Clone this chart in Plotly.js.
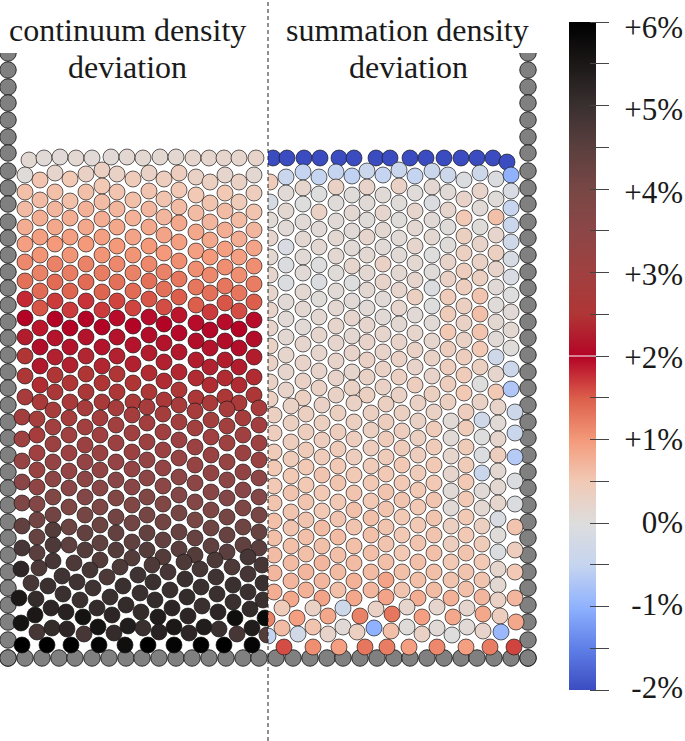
<!DOCTYPE html>
<html><head><meta charset="utf-8">
<script src="https://cdn.plot.ly/plotly-3.0.1.min.js"></script>
<style>html,body{margin:0;padding:0;background:#fff}#g{width:685px;height:741px}</style>
</head><body><div id="g"></div>
<script>
// colour scale of the deviation, in percent
const scaleValues=[-2,-1.5,-1,-0.5,0,0.5,1,1.5,2,2.5,3,3.5,4,4.5,5,5.5,6];
const scaleColors=['#3b4cc0','#5f7fe8','#8fb1fe','#c5d4f0','#dddddd','#f1c9b5','#f49a7b','#dc5f4b','#b40426','#b03535','#a04040','#8c4646','#784745','#5a3f3e','#3a3030','#1c1818','#000000'];
const barValues=[-2,-1.75,-1.5,-1.25,-1,-0.75,-0.5,-0.25,0,0.25,0.5,0.75,1,1.25,1.5,1.75,2,2.25,2.5,2.75,3,3.25,3.5,3.75,4,4.25,4.5,4.75,5,5.25,5.5,5.75,6];
const tickValues=[-2,-1.5,-1,-0.5,0,0.5,1,1.5,2,2.5,3,3.5,4,4.5,5,5.5,6];
const labelValues=[-2,-1,0,1,2,3,4,5,6];
const labelTexts=['-2%','-1%','0%','+1%','+2%','+3%','+4%','+5%','+6%'];

// wall particles
const leftWallX=[8,8,8,8,8,8,8,8,8,8,8,8,8,8,8,8,8,8,8,8,8,8,8,8,8,8,8,8,8,8,8,8,8,8,8,8,8];
const wallY=[53,70,87,103,120,137,153,171,188,204,222,238,255,272,288,305,322,338,355,372,388,405,422,438,455,472,488,505,522,538,555,572,588,605,622,640,658];
const rightWallX=[528,528,528,528,528,528,528,528,528,528,528,528,528,528,528,528,528,528,528,528,528,528,528,528,528,528,528,528,528,528,528,528,528,528,528,528,528];
const floorX=[8,25,42,59,75,92,109,126,142,159,176,192,209,226,243,259,276,293,310,327,343,360,377,394,410,427,444,461,477,494,511,528];
const floorY=[658,658,658,658,658,658,658,658,658,658,658,658,658,658,658,658,658,658,658,658,658,658,658,658,658,658,658,658,658,658,658,658];

// continuum density deviation, upper part
const lTopX=[29,44,60,76,92,111,127,143,160,176,193,209,224,239,256];
const lTopY=[160,158,157,158,158,157,157,158,157,157,158,158,158,158,158];
const lTopD=[.15,.1,.1,.15,.1,.1,.15,.15,.15,.15,.2,.2,.2,.2,.25];
const lUpX=[25,40,55,70,86,102,117,133,149,164,179,196,210,225,239,254];
const lUpY=[
[175,192,209,227,244,262,281,299,318,337,356,376,397],
[180,200,218,237,255,273,291,308,328,347,366,385,402],
[173,192,209,227,244,264,282,301,319,338,357,375,392],
[179,201,218,237,255,273,291,310,328,347,365,383,402],
[174,192,209,227,244,264,282,301,319,337,356,374,392],
[170,186,202,219,237,255,273,292,310,327,347,366,383,402],
[174,192,209,227,246,264,282,301,318,337,356,374,392],
[179,200,218,237,255,273,291,308,326,345,364,383,402],
[173,191,209,227,246,264,281,299,317,335,353,373,392],
[179,199,217,235,253,272,289,307,324,343,362,381,400],
[173,190,207,223,242,261,279,297,315,333,352,372,390],
[177,195,213,232,251,269,287,305,323,341,360,378,398],
[182,203,222,240,257,275,293,312,330,348,367,385,403],
[175,193,211,230,249,267,286,303,322,341,360,378,397],
[182,202,220,239,257,275,293,311,329,348,367,385,403],
[175,193,212,230,248,266,284,302,320,339,357,377,395]];
const lUpD=[
[.05,.6,.65,.8,.95,1.15,1.35,1.8,2,2.25,2.5,2.6,2.75],
[.55,.65,.8,.95,1.05,1.2,1.4,1.55,1.9,2.1,2.2,2.4,2.7],
[.2,.6,.7,.85,1,1.2,1.4,1.7,2,2.15,2.3,2.5,2.65],
[.5,.6,.8,.95,1.05,1.25,1.45,1.7,2,2.15,2.3,2.5,2.7],
[.3,.6,.75,.85,1,1.2,1.4,1.75,2,2.15,2.35,2.5,2.65],
[.35,.5,.65,.8,.95,1.05,1.25,1.45,1.7,2,2.15,2.35,2.5,2.7],
[.3,.55,.7,.85,1,1.15,1.35,1.65,1.95,2.15,2.3,2.5,2.6],
[.45,.6,.75,.9,1.05,1.2,1.4,1.65,2,2.15,2.3,2.5,2.7],
[.3,.55,.7,.85,1,1.15,1.35,1.55,1.95,2.1,2.25,2.4,2.6],
[.4,.55,.7,.9,1,1.2,1.35,1.6,2,2.15,2.3,2.4,2.65],
[.4,.5,.65,.85,.95,1.1,1.3,1.5,1.9,2.05,2.2,2.35,2.6],
[.3,.5,.65,.85,.95,1.1,1.3,1.5,1.95,2.1,2.25,2.4,2.6],
[.35,.55,.7,.85,1,1.15,1.35,1.7,2.05,2.15,2.3,2.4,2.7],
[.2,.5,.65,.8,.95,1.1,1.3,1.55,1.95,2.1,2.25,2.4,2.6],
[.3,.45,.65,.8,.95,1.1,1.3,1.6,2,2.1,2.25,2.4,2.7],
[.15,.4,.55,.7,.9,1.1,1.25,1.5,1.95,2.1,2.25,2.4,2.6]];

// continuum density deviation, lower part
const lLowX=[22,37,53,69,85,100,116,132,147,163,179,195,211,227,243,259];
const lLowY=[
[417,439,461,482,503,526,548],
[419,435,453,470,487,504,520,537,553],
[410,427,444,462,479,497,515,530,545,561],
[418,435,453,471,488,507,527,545],
[408,427,445,462,479,497,515,533,550],
[418,435,453,470,488,507,525,543,560],
[408,425,443,462,480,498,517,533,550],
[415,433,452,469,487,505,523,542,558],
[407,423,442,460,478,497,515,533,550],
[414,432,450,468,486,504,522,540,557],
[405,422,440,458,477,495,513,532,549],
[411,428,447,465,483,502,520,538,555],
[420,437,455,473,492,510,528,546],
[409,426,443,462,480,498,517,535,552],
[418,435,453,472,490,508,527,545],
[408,425,443,460,478,497,515,532,548]];
const lLowD=[
[2.9,3.05,3.25,3.55,3.85,4.4,4.8],
[2.85,2.8,3,3.2,3.4,3.75,4.1,4.3,4.5],
[2.8,2.95,3.1,3.3,3.5,3.8,4.1,4.6,4.7,4.8],
[2.85,3,3.1,3.3,3.55,3.85,4.2,4.45],
[2.8,2.95,3.1,3.3,3.5,3.75,4.05,4.35,4.6],
[2.85,3,3.15,3.35,3.55,3.85,4.2,4.4,4.6],
[2.8,2.95,3.1,3.3,3.55,3.8,4.1,4.35,4.6],
[2.85,3,3.1,3.3,3.55,3.8,4.1,4.4,4.6],
[2.8,2.9,3.1,3.3,3.5,3.8,4.05,4.35,4.6],
[2.85,3,3.1,3.3,3.5,3.8,4.1,4.35,4.6],
[2.8,2.9,3.1,3.25,3.5,3.75,4.05,4.3,4.5],
[2.8,2.95,3.1,3.25,3.5,3.75,4,4.3,4.6],
[2.9,3,3.2,3.35,3.6,3.85,4.15,4.4],
[2.8,2.95,3.05,3.25,3.5,3.75,4.05,4.3,4.5],
[2.85,3,3.15,3.35,3.6,3.85,4.15,4.4],
[2.75,2.9,3.05,3.2,3.45,3.75,4,4.3,4.5]];
const lBedX=[
21,39,74,90,120,152,184,215,200,232,248,262,168,107,
138,216,248,31,48,62,77,93,123,153,185,233,263,201,
170,140,110,63,19,36,80,187,155,217,248,233,263,
97,112,126,141,158,172,188,202,218,235,250,265,51,66,83,35,21,
37,52,67,84,98,114,128,143,159,174,189,204,219,237,252,267,
22,47,71,99,125,148,174,201,224,252];
const lBedY=[
569,568,563,570,567,565,562,560,569,567,557,565,572,577,
575,577,574,583,586,576,582,588,586,582,579,585,583,587,
590,593,597,594,598,599,600,597,600,594,592,602,600,
608,615,605,612,617,608,616,606,612,618,609,618,608,612,617,615,623,
632,628,629,634,627,633,626,628,632,627,633,627,629,634,628,635,
645,645,645,645,645,645,645,645,645,645];
const lBedD=[
5.2,4.7,4.7,4.8,4.7,4.7,4.7,4.7,4.8,4.7,4.8,4.8,4.8,4.7,
4.9,4.9,4.8,4.8,5,4.9,4.9,4.9,5,5,5,5,5,5,
5,5,5,5,5.5,5.1,5,5.1,5.1,5,5,5,5,
5.1,5.2,5.1,5.1,5.4,5.2,5.2,5,5.2,5.7,5.1,5.8,5.2,5.3,5.6,5.5,5.6,
4.8,5.1,5.2,4.8,5.6,5.1,5.4,5,5.3,5.5,5.2,5.4,5,4.8,5.4,4.6,
6,6,6,5.9,5.7,6,5.9,6,6,5.9];

// summation density deviation, upper part
const rTopX=[273,287,304,320,339,354,376,390,410,426,444,461,477,493,507];
const rTopY=[158,158,158,158,158,158,158,158,158,158,158,158,158,158,162];
const rTopD=[-2,-2,-2,-2,-2,-2,-2,-2,-2,-2,-2,-2,-2,-2,-2];
const rUpX=[270,286,303,319,336,352,367,383,399,415,432,448,464,480,496,511];
const rUpY=[
[182,202,220,238,257,275,293,310,328,346,363,382,399],
[177,193,211,228,247,265,283,302,319,337,355,372,390],
[172,188,204,222,239,257,273,292,309,327,344,363,381,398],
[177,194,212,229,247,265,282,299,317,335,353,371,388],
[172,187,203,221,238,256,273,291,308,326,343,361,378,395],
[176,195,213,231,248,266,283,301,318,336,353,372,388],
[171,187,203,220,237,255,273,290,308,325,342,360,377,395],
[175,195,213,230,247,264,282,299,317,334,352,369,387],
[170,186,203,220,238,255,273,290,308,324,342,359,377,395],
[176,193,211,228,246,263,280,297,315,333,350,367,385],
[171,187,203,220,237,255,272,288,306,323,341,358,376,394],
[175,192,210,227,245,262,279,297,314,332,349,367,384,402],
[180,199,218,236,253,271,287,306,323,340,357,375,393],
[173,191,208,227,244,262,278,296,314,332,349,367,384,402],
[179,199,217,235,253,269,287,305,322,339,357,374,392],
[175,191,208,225,242,259,277,295,312,330,348,369,389]];
const rUpD=[
[.45,-.15,.1,.2,.15,.2,.2,.25,.25,.3,.3,.3,.35],
[-.4,.1,.15,.1,-.1,-.05,-.05,.1,.1,.15,.2,.2,.25],
[-.5,.2,0,.1,.15,.1,.1,.15,.15,.1,.2,.25,.3,.35],
[-.5,0,.3,.1,.15,0,-.05,.05,.15,.2,.2,.25,.3],
[-.5,.3,.05,.1,.15,.15,.05,.1,.15,.2,.2,.25,.25,.3],
[-.55,.05,.15,.1,.1,.2,0,.1,.2,.15,.25,.2,.3],
[-.4,.25,.1,.05,.2,.15,.15,.15,.1,.2,.25,.3,.3,.35],
[-.5,.1,.2,.15,.1,.3,.25,.1,.1,.2,.25,.3,.3],
[-.4,.3,.05,.05,.1,.1,.15,.2,.2,.15,.25,.3,.35,.3],
[-.5,.05,.2,.15,.2,.15,.2,.35,.1,.2,.3,.25,.4],
[-.4,.15,-.05,.1,.15,0,.05,-.05,0,.1,.2,.3,.25,.35],
[-.35,.1,.2,.05,.05,.25,.3,.45,.45,.5,.4,.4,.4,.35],
[-.05,.25,.5,.35,.35,.4,.4,.35,.3,.3,.4,.45,.5],
[-.35,.25,.1,.05,.25,.3,.35,.55,.6,.55,.5,.35,0,.3],
[-.05,.05,.6,.2,.35,.25,.1,.05,.15,.1,-.3,.2,.5],
[-1,-.1,-.45,-.4,-.3,-.15,-.1,0,.1,.15,.05,-.35,-.7]];

// summation density deviation, lower part
const rLowX=[274,291,306,322,338,354,371,386,402,418,434,451,466,482,498,515];
const rLowY=[
[415,433,452,468,486,503,521,538,555,573,592],
[406,423,442,459,476,493,512,528,546,563,581,599],
[414,432,450,467,485,502,520,537,554,572,590],
[405,423,440,457,475,493,511,528,546,563,581,598],
[413,432,449,466,483,502,519,537,555,572,590],
[403,422,439,457,475,493,510,527,546,563,581,598],
[413,430,448,466,483,501,518,535,553,572,590],
[404,422,439,457,474,492,509,527,544,562,580,597],
[413,431,448,465,483,500,517,535,553,572,590],
[403,421,438,455,473,490,507,525,543,562,580,598],
[412,429,447,465,483,500,518,535,553,572,590],
[421,438,456,474,491,508,526,544,562,580,598],
[412,428,447,465,482,499,517,535,553,572,589],
[420,437,455,473,491,508,526,544,562,580,597],
[407,423,439,455,471,487,503,519,535,552,569,585,600],
[412,433,457,481,504,527,550,572,598]];
const rLowD=[
[.35,.4,.45,.5,.5,.55,.6,.6,.65,.7,.8],
[.3,.35,.4,.45,.5,.55,.55,.55,.6,.65,.7,.85],
[.35,.4,.45,.5,.5,.55,.55,.6,.6,.7,.75],
[.3,.35,.4,.45,.55,.5,.5,.65,.6,.7,.7,.9],
[.35,.4,.45,.5,.55,.5,.55,.65,.6,.65,.6],
[.3,.35,.4,.4,.5,.55,.6,.55,.6,.65,.75,.85],
[.35,.35,.4,.45,.5,.5,.6,.6,.6,.65,.7],
[.35,.4,.45,.45,.5,.55,.55,.55,.55,.6,.9,.9],
[.35,.4,.45,.5,.5,.55,.5,.5,.5,.6,.55],
[.3,.3,.35,.4,.45,.5,.5,.5,.55,.6,.6,.8],
[.3,.45,.45,.5,.5,.55,.55,.55,.6,.6,.65],
[.1,.1,.2,.2,.1,.1,.35,.4,.5,.55,.75],
[.4,.45,.45,.45,.5,.5,.5,.5,.55,.55,.6],
[-.3,0,-.05,-.4,.1,.15,.35,.45,.5,.55,.7],
[.25,.1,.2,.4,.15,.15,.2,-.1,.05,-.05,.2,.15,.3],
[-.35,-.4,-.65,-.05,-.05,.55,.4,.5,.7]];
const rBedX=[267,282,297,313,328,343,360,376,392,407,422,437,453,467,483,500,516,268,282,298,313,328,343,357,374,391,407,422,437,452,467,483,501,284,313,339,365,387,409,437,466,490,514];
const rBedY=[619,608,618,608,616,608,616,609,614,607,617,607,617,608,614,616,622,636,628,634,627,634,627,632,628,631,627,634,628,635,627,631,632,647,647,647,647,647,647,647,647,647,647];
const rBedD=[1.2,.45,.95,.3,.85,-.35,1.2,.3,1.3,.2,.95,.2,.85,.2,.85,.4,.85,-.5,.65,-.25,.55,.25,.1,.35,-1,.6,.05,.3,.1,0,.1,.25,-.9,1.6,1.1,.95,1.3,1.25,.95,1.15,.95,1.25,1.65];

const colorscale=scaleValues.map((v,i)=>[(v-scaleValues[0])/(scaleValues[scaleValues.length-1]-scaleValues[0]),scaleColors[i]]);
function expand(colX,colY,colD){
  const x=[],y=[],d=[];
  colX.forEach((cx,i)=>colY[i].forEach((cy,j)=>{x.push(cx);y.push(cy);d.push(colD[i][j]);}));
  return {x,y,d};
}
const R=16, LW=1;
function particles(x,y,d,xa){
  return {type:'scatter',mode:'markers',x,y,xaxis:xa,yaxis:'y',hoverinfo:'skip',
    marker:{size:R,color:d,cmin:-2,cmax:6,colorscale,showscale:false,line:{color:'rgba(20,20,20,0.65)',width:LW}}};
}
function wall(x,y,xa){
  return {type:'scatter',mode:'markers',x,y,xaxis:xa,yaxis:'y',hoverinfo:'skip',
    marker:{size:R+0.5,color:'#808080',line:{color:'rgba(20,20,20,0.85)',width:LW}}};
}
const lU=expand(lUpX,lUpY,lUpD), lL=expand(lLowX,lLowY,lLowD), rU=expand(rUpX,rUpY,rUpD), rL=expand(rLowX,rLowY,rLowD);
const traces=[
  wall(leftWallX,wallY,'x'),
  wall(floorX,floorY,'x'),
  particles(lTopX,lTopY,lTopD,'x'),
  particles(lU.x,lU.y,lU.d,'x'),
  particles(lL.x,lL.y,lL.d,'x'),
  particles(lBedX,lBedY,lBedD,'x'),
  wall(rightWallX,wallY,'x2'),
  wall(floorX,floorY,'x2'),
  particles(rTopX,rTopY,rTopD,'x2'),
  particles(rU.x,rU.y,rU.d,'x2'),
  particles(rL.x,rL.y,rL.d,'x2'),
  particles(rBedX,rBedY,rBedD,'x2'),
  {type:'heatmap',x:[0,1],y:barValues,z:barValues.map(v=>[v,v]),xaxis:'x3',yaxis:'y3',zmin:-2,zmax:6,colorscale,showscale:false,zsmooth:'best',hoverinfo:'skip'},
  {type:'scatter',mode:'markers',x:[0],y:[0],xaxis:'x3',yaxis:'y4',opacity:0,hoverinfo:'skip',marker:{size:1}}
];
const W=685,H=741;
const hidden={visible:false,fixedrange:true};
const serif='"Liberation Serif",serif';
function titleLine(text,x,py){
  return {xref:'paper',yref:'paper',x:x/W,y:1-py/H,text,showarrow:false,xanchor:'center',yanchor:'middle',font:{family:serif,size:32,color:'#1a1a1a'}};
}
const layout={
  width:W,height:H,margin:{l:0,r:0,t:0,b:0},paper_bgcolor:'#fff',plot_bgcolor:'rgba(0,0,0,0)',showlegend:false,
  font:{family:serif,color:'#222'},
  xaxis:{...hidden,domain:[0,268/W],range:[0,268]},
  xaxis2:{...hidden,domain:[268/W,1],range:[268,685],anchor:'y'},
  yaxis:{...hidden,domain:[0,1-53/H],range:[741,53]},
  xaxis3:{...hidden,domain:[569/W,596/W],range:[0,1],anchor:'y3'},
  yaxis3:{domain:[1-690/H,1-22/H],range:[-2,6],anchor:'free',position:609/W,side:'left',showgrid:false,zeroline:false,showline:false,
    ticks:'outside',ticklen:19,tickwidth:1,tickcolor:'#444',tickmode:'array',tickvals:tickValues,showticklabels:false,fixedrange:true},
  yaxis4:{domain:[1-687/H,1-27/H],range:[-2,6],anchor:'free',position:683/W,side:'left',showgrid:false,zeroline:false,showline:false,
    ticks:'',tickmode:'array',tickvals:labelValues,ticktext:labelTexts,tickfont:{family:serif,size:31,color:'#1a1a1a'},ticklabelstandoff:0,fixedrange:true},
  annotations:[
    titleLine('continuum density',127.5,30),
    titleLine('deviation',127.5,67),
    titleLine('summation density',407,30),
    titleLine('deviation',408,67)
  ],
  shapes:[
    {type:'line',xref:'paper',yref:'paper',x0:268/W,x1:268/W,y0:0,y1:1,line:{color:'#222',width:1,dash:'4px,3px'},layer:'above'},
    {type:'line',xref:'x3',yref:'y3',x0:0,x1:1,y0:2,y1:2,line:{color:'#fff',width:1},layer:'above'}
  ]
};
Plotly.newPlot('g',traces,layout,{staticPlot:true,displayModeBar:false});
</script></body></html>
